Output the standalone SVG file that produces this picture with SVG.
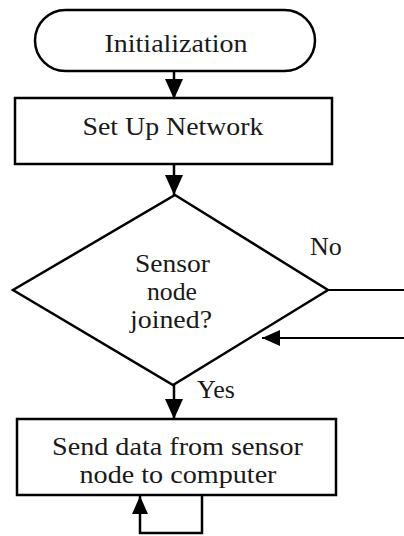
<svg xmlns="http://www.w3.org/2000/svg" width="404" height="536" viewBox="0 0 404 536">
<defs>
<style>
.shape{fill:#fff;stroke:#000;stroke-width:2.5}
.conn{fill:none;stroke:#000;stroke-width:2.5}
.thin{fill:none;stroke:#000;stroke-width:2}
text{font-family:"Liberation Serif","Times New Roman",serif;font-size:26px;fill:#1a1a1a}
.c{text-anchor:middle}
</style>
<marker id="ah" viewBox="0 0 20 18" refX="20" refY="9" markerWidth="20" markerHeight="18" orient="auto" markerUnits="userSpaceOnUse">
<path d="M0,0 L20,9 L0,18 Z" fill="#000"/>
</marker>
<marker id="ahs" viewBox="0 0 18 16" refX="18" refY="8" markerWidth="18" markerHeight="16" orient="auto" markerUnits="userSpaceOnUse">
<path d="M0,0 L18,8 L0,16 Z" fill="#000"/>
</marker>
</defs>
<rect width="404" height="536" fill="#fff"/>
<g id="connectors">
<line class="conn" x1="174" y1="71" x2="174" y2="99" marker-end="url(#ah)"/>
<line class="conn" x1="174" y1="164" x2="174" y2="195" marker-end="url(#ah)"/>
<line class="conn" x1="174" y1="385" x2="174" y2="419" marker-end="url(#ah)"/>
<line class="thin" x1="328" y1="290" x2="404" y2="290"/>
<line class="thin" x1="404" y1="338" x2="262" y2="338" marker-end="url(#ahs)"/>
<polyline class="conn" points="202,495 202,533 140,533 140,496" marker-end="url(#ahs)"/>
<text x="310" y="255">No</text>
<text x="197" y="398">Yes</text>
</g>
<g id="init">
<rect class="shape" x="35" y="10" width="280" height="61" rx="30.5" ry="30.5"/>
<text class="c" x="176" y="52" textLength="143" lengthAdjust="spacingAndGlyphs">Initialization</text>
</g>
<g id="setup">
<rect class="shape" x="15" y="98" width="317" height="66"/>
<text class="c" x="173" y="135" textLength="181" lengthAdjust="spacingAndGlyphs">Set Up Network</text>
</g>
<g id="decision">
<polygon class="shape" points="175,195 328,290 173,385 13,290"/>
<text class="c" x="172.5" y="272" textLength="75" lengthAdjust="spacingAndGlyphs">Sensor</text>
<text class="c" x="172" y="300" textLength="50" lengthAdjust="spacingAndGlyphs">node</text>
<text class="c" x="171" y="328" textLength="82" lengthAdjust="spacingAndGlyphs">joined?</text>
</g>
<g id="send">
<rect class="shape" x="17" y="419" width="319" height="76"/>
<text class="c" x="177.5" y="455" textLength="251" lengthAdjust="spacingAndGlyphs">Send data from sensor</text>
<text class="c" x="178" y="483" textLength="197" lengthAdjust="spacingAndGlyphs">node to computer</text>
</g>
</svg>
